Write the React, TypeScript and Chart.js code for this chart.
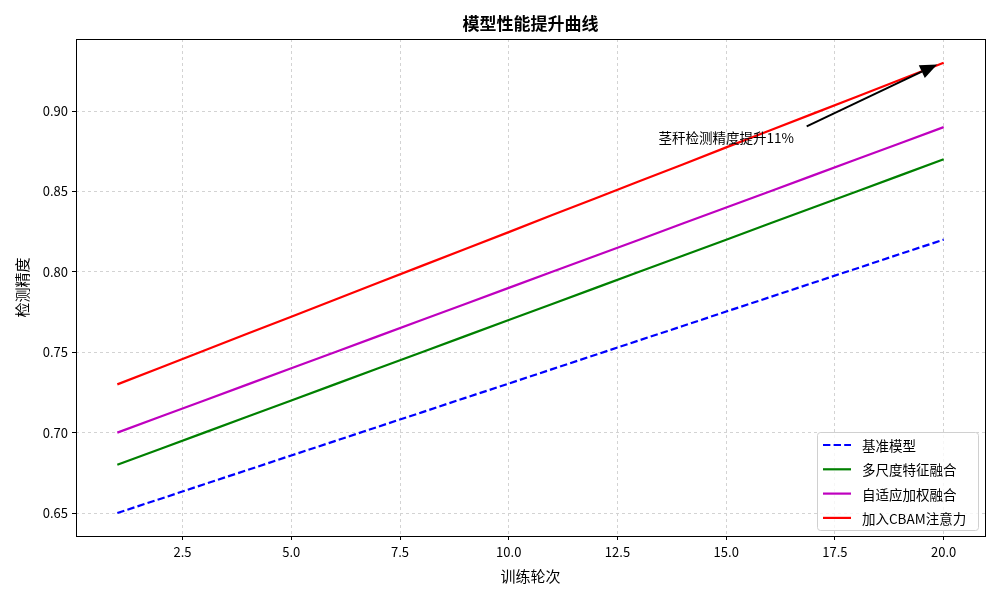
import React, { useEffect, useRef } from "react";
import { Chart, registerables } from "chart.js";

Chart.register(...registerables);

const epochs = [1, 2, 3, 4, 5, 6, 7, 8, 9, 10, 11, 12, 13, 14, 15, 16, 17, 18, 19, 20];
const baseline = [0.65, 0.6589, 0.6679, 0.6768, 0.6858, 0.6947, 0.7037, 0.7126, 0.7216, 0.7305, 0.7395, 0.7484, 0.7574, 0.7663, 0.7753, 0.7842, 0.7932, 0.8021, 0.8111, 0.82];
const multiScale = [0.68, 0.69, 0.7, 0.71, 0.72, 0.73, 0.74, 0.75, 0.76, 0.77, 0.78, 0.79, 0.8, 0.81, 0.82, 0.83, 0.84, 0.85, 0.86, 0.87];
const adaptive = [0.7, 0.71, 0.72, 0.73, 0.74, 0.75, 0.76, 0.77, 0.78, 0.79, 0.8, 0.81, 0.82, 0.83, 0.84, 0.85, 0.86, 0.87, 0.88, 0.89];
const cbam = [0.73, 0.7405, 0.7511, 0.7616, 0.7721, 0.7826, 0.7932, 0.8037, 0.8142, 0.8247, 0.8353, 0.8458, 0.8563, 0.8668, 0.8774, 0.8879, 0.8984, 0.9089, 0.9195, 0.93];
const seriesNames = ["基准模型", "多尺度特征融合", "自适应加权融合", "加入CBAM注意力"];
const xTicks = [2.5, 5.0, 7.5, 10.0, 12.5, 15.0, 17.5, 20.0];
const yTicks = [0.65, 0.7, 0.75, 0.8, 0.85, 0.9];
const titleText = "模型性能提升曲线";
const xLabel = "训练轮次";
const yLabel = "检测精度";
const annotationText = "茎秆检测精度提升11%";
const annotationTextPos = [15, 0.883];
const arrowFrom = [16.85, 0.8905];
const arrowTo = [19.85, 0.929];

const FONT = "'Noto Sans CJK SC', 'Noto Sans', sans-serif";
const colors = ["#0000ff", "#008000", "#bf00bf", "#ff0000"];
const dashes: number[][] = [[7.4, 3.2], [], [], []];

export default function App() {
  const ref = useRef<HTMLCanvasElement>(null);
  useEffect(() => {
    document.body.style.margin = "0";
    const ctx = ref.current!.getContext("2d")!;
    const allSeries = [baseline, multiScale, adaptive, cbam];

    const overlay = {
      id: "overlay",
      afterDraw(chart: any) {
        const c = chart.ctx;
        const { left, right, top, bottom } = chart.chartArea;
        const xs = chart.scales.x;
        const ys = chart.scales.y;
        c.save();
        c.strokeStyle = "#000";
        c.lineWidth = 1;
        c.setLineDash([]);
        c.strokeRect(Math.round(left) + 0.5, Math.round(top) + 0.5, Math.round(right - left), Math.round(bottom - top));
        c.fillStyle = "#000";
        c.textAlign = "center";
        c.textBaseline = "middle";
        c.font = `bold 17px ${FONT}`;
        c.fillText(titleText, (left + right) / 2, 24);
        c.font = `15px ${FONT}`;
        c.fillText(xLabel, (left + right) / 2, 576);
        c.save();
        c.translate(22, (top + bottom) / 2);
        c.rotate(-Math.PI / 2);
        c.fillText(yLabel, 0, 0);
        c.restore();
        c.font = `13.5px ${FONT}`;
        c.fillText(annotationText, xs.getPixelForValue(annotationTextPos[0]), ys.getPixelForValue(annotationTextPos[1]));
        const x1 = xs.getPixelForValue(arrowFrom[0]);
        const y1 = ys.getPixelForValue(arrowFrom[1]);
        const x2 = xs.getPixelForValue(arrowTo[0]);
        const y2 = ys.getPixelForValue(arrowTo[1]);
        const ang = Math.atan2(y2 - y1, x2 - x1);
        const hl = 17, hw = 7;
        const bx = x2 - hl * Math.cos(ang);
        const by = y2 - hl * Math.sin(ang);
        c.strokeStyle = "#000";
        c.lineWidth = 2;
        c.beginPath();
        c.moveTo(x1, y1);
        c.lineTo(bx, by);
        c.stroke();
        c.beginPath();
        c.moveTo(x2, y2);
        c.lineTo(bx + hw * Math.sin(ang), by - hw * Math.cos(ang));
        c.lineTo(bx - hw * Math.sin(ang), by + hw * Math.cos(ang));
        c.closePath();
        c.fillStyle = "#000";
        c.fill();
        const lx = right - 168, ly = bottom - 104, lw = 161, lh = 98;
        c.beginPath();
        (c as any).roundRect(lx + 0.5, ly + 0.5, lw, lh, 3);
        c.fillStyle = "rgba(255,255,255,0.8)";
        c.fill();
        c.strokeStyle = "#d0d0d0";
        c.lineWidth = 1;
        c.stroke();
        c.font = `13.5px ${FONT}`;
        c.textAlign = "left";
        seriesNames.forEach((name, i) => {
          const yy = ly + 13 + i * 24.3;
          c.strokeStyle = colors[i];
          c.lineWidth = 2.2;
          c.setLineDash(dashes[i]);
          c.beginPath();
          c.moveTo(lx + 6, yy);
          c.lineTo(lx + 34, yy);
          c.stroke();
          c.setLineDash([]);
          c.fillStyle = "#000";
          c.fillText(name, lx + 45, yy + 1);
        });
        c.restore();
      },
    };

    const gridOpts = { color: "#d3d3d3", tickColor: "#000", tickLength: 4, drawTicks: true, tickBorderDash: [] } as any;
    const chart = new Chart(ctx, {
      type: "line",
      data: {
        datasets: allSeries.map((s, i) => ({
          label: seriesNames[i],
          data: s.map((v, j) => ({ x: epochs[j], y: v })),
          borderColor: colors[i],
          borderWidth: 2.2,
          borderDash: dashes[i],
          pointRadius: 0,
          fill: false,
          tension: 0,
        })),
      },
      options: {
        responsive: false,
        animation: false,
        layout: { padding: { left: 0, right: 15, top: 39, bottom: 0 } },
        plugins: { legend: { display: false }, title: { display: false }, tooltip: { enabled: false } },
        scales: {
          x: {
            type: "linear",
            min: 0.05,
            max: 20.95,
            afterBuildTicks: (s: any) => { s.ticks = xTicks.map((v) => ({ value: v })); },
            afterFit: (s: any) => { s.height = 64; },
            grid: gridOpts,
            border: { display: false, dash: [3, 3] },
            ticks: { color: "#000", font: { family: FONT, size: 13 }, padding: 4, maxRotation: 0, callback: (v: any) => Number(v).toFixed(1) },
          },
          y: {
            type: "linear",
            min: 0.6357,
            max: 0.9448,
            afterBuildTicks: (s: any) => { s.ticks = yTicks.map((v) => ({ value: v })); },
            afterFit: (s: any) => { s.width = 76; },
            grid: gridOpts,
            border: { display: false, dash: [3, 3] },
            ticks: { color: "#000", font: { family: FONT, size: 13 }, padding: 4, callback: (v: any) => Number(v).toFixed(2) },
          },
        },
      },
      plugins: [overlay],
    } as any);
    return () => chart.destroy();
  }, []);
  return (
    <div style={{ position: "absolute", left: 0, top: 0, width: 1000, height: 600, background: "#fff" }}>
      <canvas ref={ref} width={1000} height={600} style={{ width: 1000, height: 600 }} />
    </div>
  );
}
